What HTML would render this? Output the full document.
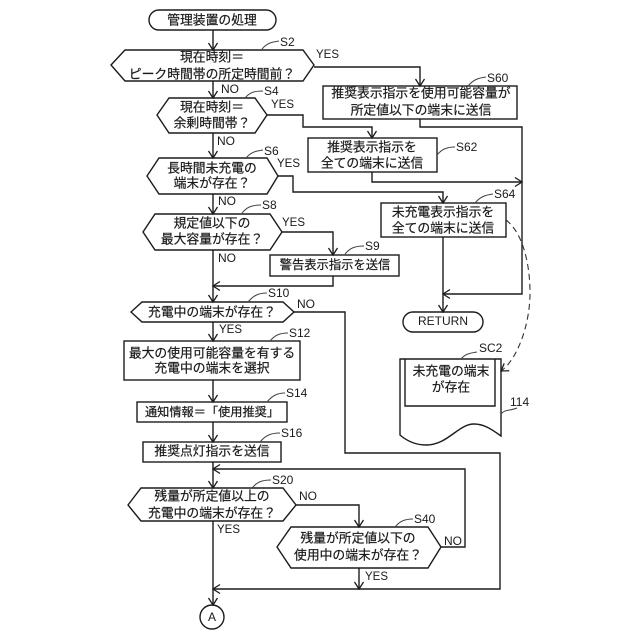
<!DOCTYPE html>
<html lang="ja"><head><meta charset="utf-8"><title>管理装置の処理</title>
<style>
html,body{margin:0;padding:0;background:#fff}
svg{display:block;filter:blur(.35px)}
.s{fill:none;stroke:#1c1c1c;stroke-width:1.4}
.l{fill:none;stroke:#444;stroke-width:1}
.j{font-family:"Liberation Sans","Noto Sans CJK JP",sans-serif;font-size:12.8px;fill:#1a1a1a;stroke:#1a1a1a;stroke-width:.2;text-anchor:middle;dominant-baseline:central}
.e{font-family:"Liberation Sans",sans-serif;font-size:12px;fill:#1a1a1a;dominant-baseline:central}
.t{font-size:11.5px}
</style></head><body>
<svg width="640" height="640" viewBox="0 0 640 640" xmlns="http://www.w3.org/2000/svg">
<defs><marker id="a" markerUnits="userSpaceOnUse" markerWidth="12" markerHeight="12" refX="9" refY="6" orient="auto"><path d="M2 1.5L9 6L2 10.5" fill="none" stroke="#1c1c1c" stroke-width="1.3"/></marker></defs>
<!-- shapes -->
<rect class="s" x="149" y="10" width="127" height="20" rx="10"/>
<polygon class="s" points="111,65 125,50 303,50 314,65 303,81 125,81"/>
<polygon class="s" points="157,115 169,98 255,98 267,115 255,133 169,133"/>
<polygon class="s" points="147,176 159,158 267,158 278,176 267,194 159,194"/>
<polygon class="s" points="143,232 155,214 270,214 282,232 270,250 155,250"/>
<rect class="s" x="270" y="255" width="129" height="21"/>
<polygon class="s" points="131,312 142,302 283,302 294,312 283,322 142,322"/>
<rect class="s" x="124" y="341" width="176" height="39"/>
<rect class="s" x="137" y="402" width="150" height="20"/>
<rect class="s" x="143" y="442" width="138" height="20"/>
<polygon class="s" points="128,505 141,488 283,488 296,505 283,521 141,521"/>
<polygon class="s" points="277,547 291,527 428,527 441,547 428,568 291,568"/>
<circle class="s" cx="212" cy="617" r="12"/>
<rect class="s" x="323" y="86" width="194" height="33"/>
<rect class="s" x="308" y="138" width="129" height="34"/>
<rect class="s" x="381" y="203" width="125" height="34"/>
<rect class="s" x="403" y="312" width="80" height="20" rx="10"/>
<path class="s" d="M400 435V359H501V436C490 428 483 424 474 424C458 424 448 445 426 445C415 445 407 441 400 435Z"/>
<path class="s" d="M405 359V406H495V359"/>
<!-- connectors -->
<path class="s" d="M213 30V50" marker-end="url(#a)"/>
<path class="s" d="M213 81V98" marker-end="url(#a)"/>
<path class="s" d="M213 133V158" marker-end="url(#a)"/>
<path class="s" d="M213 194V214" marker-end="url(#a)"/>
<path class="s" d="M213 250V302" marker-end="url(#a)"/>
<path class="s" d="M213 322V341" marker-end="url(#a)"/>
<path class="s" d="M213 380V402" marker-end="url(#a)"/>
<path class="s" d="M213 422V442" marker-end="url(#a)"/>
<path class="s" d="M213 462V488" marker-end="url(#a)"/>
<path class="s" d="M213 521V605" marker-end="url(#a)"/>
<path class="s" d="M314 67H420V86" marker-end="url(#a)"/>
<path class="s" d="M267 115H303V127H372V138" marker-end="url(#a)"/>
<path class="s" d="M278 176H293V192H443V203" marker-end="url(#a)"/>
<path class="s" d="M282 232H333V255" marker-end="url(#a)"/>
<path class="s" d="M333 276V286H213" marker-end="url(#a)"/>
<path class="s" d="M420 119V127H522V294H443" marker-end="url(#a)"/>
<path class="s" d="M372 172V182H522" marker-end="url(#a)"/>
<path class="s" d="M443 237V312" marker-end="url(#a)"/>
<path class="s" d="M294 312H345V453H500V589H213" marker-end="url(#a)"/>
<path class="s" d="M441 547H465V469H213" marker-end="url(#a)"/>
<path class="s" d="M296 505H359V527" marker-end="url(#a)"/>
<path class="s" d="M359 568V589" marker-end="url(#a)"/>
<path d="M506 220C522 232 530 262 530 293C530 325 517 360 501 371" fill="none" stroke="#333" stroke-width="1.1" stroke-dasharray="6 4" marker-end="url(#a)"/>
<!-- leaders -->
<path class="l" d="M262 49C267 43 272 42 279 41"/>
<path class="l" d="M245 98C250 92 255 91 263 91"/>
<path class="l" d="M246 158C251 152 256 151 263 150"/>
<path class="l" d="M242 213C247 207 252 205 261 205"/>
<path class="l" d="M345 254C350 248 355 246 364 246"/>
<path class="l" d="M248 302C253 296 258 293 267 293"/>
<path class="l" d="M270 341C275 335 280 333 288 333"/>
<path class="l" d="M267 402C272 396 277 393 285 393"/>
<path class="l" d="M260 442C265 436 270 433 280 433"/>
<path class="l" d="M252 488C257 482 262 480 271 480"/>
<path class="l" d="M395 527C400 521 405 519 413 519"/>
<path class="l" d="M468 86C473 80 478 78 486 77"/>
<path class="l" d="M437 155C442 149 447 147 455 147"/>
<path class="l" d="M475 203C480 197 485 195 493 194"/>
<path class="l" d="M461 359C465 354 470 353 477 352"/>
<path class="l" d="M501 414C505 409 510 411 517 408"/>
<!-- Japanese text -->
<text class="j" x="212" y="20">管理装置の処理</text>
<text class="j" x="212" y="57">現在時刻＝</text>
<text class="j" x="212" y="74">ピーク時間帯の所定時間前？</text>
<text class="j" x="212" y="107">現在時刻＝</text>
<text class="j" x="212" y="123">余剰時間帯？</text>
<text class="j" x="212" y="168">長時間未充電の</text>
<text class="j" x="212" y="183">端末が存在？</text>
<text class="j" x="212" y="223">規定値以下の</text>
<text class="j" x="212" y="239">最大容量が存在？</text>
<text class="j" x="335" y="265" style="font-size:12.3px">警告表示指示を送信</text>
<text class="j" x="212" y="312">充電中の端末が存在？</text>
<text class="j" x="212" y="353">最大の使用可能容量を有する</text>
<text class="j" x="212" y="368">充電中の端末を選択</text>
<text class="j" x="212" y="412" style="font-size:12.2px">通知情報＝「使用推奨」</text>
<text class="j" x="212" y="451">推奨点灯指示を送信</text>
<text class="j" x="212" y="496">残量が所定値以上の</text>
<text class="j" x="212" y="513">充電中の端末が存在？</text>
<text class="j" x="358" y="538">残量が所定値以下の</text>
<text class="j" x="358" y="555">使用中の端末が存在？</text>
<text class="j" x="421" y="93">推奨表示指示を使用可能容量が</text>
<text class="j" x="421" y="110">所定値以下の端末に送信</text>
<text class="j" x="372" y="147">推奨表示指示を</text>
<text class="j" x="372" y="163">全ての端末に送信</text>
<text class="j" x="443" y="212">未充電表示指示を</text>
<text class="j" x="443" y="228">全ての端末に送信</text>
<text class="j" x="451" y="371">未充電の端末</text>
<text class="j" x="451" y="387">が存在</text>
<!-- Latin labels -->
<text class="e" x="443" y="321" text-anchor="middle">RETURN</text>
<text class="e" x="212" y="617" text-anchor="middle">A</text>
<text class="e" x="280" y="42">S2</text>
<text class="e" x="264" y="91">S4</text>
<text class="e" x="264" y="151">S6</text>
<text class="e" x="262" y="205">S8</text>
<text class="e" x="365" y="246">S9</text>
<text class="e" x="268" y="293">S10</text>
<text class="e" x="289" y="333">S12</text>
<text class="e" x="286" y="393">S14</text>
<text class="e" x="281" y="433">S16</text>
<text class="e" x="272" y="480">S20</text>
<text class="e" x="414" y="519">S40</text>
<text class="e" x="487" y="78">S60</text>
<text class="e" x="456" y="147">S62</text>
<text class="e" x="494" y="194">S64</text>
<text class="e" x="479" y="348">SC2</text>
<text class="e" x="510" y="402">114</text>
<text class="e t" x="316" y="55">YES</text>
<text class="e t" x="271" y="105">YES</text>
<text class="e t" x="277" y="164">YES</text>
<text class="e t" x="282" y="223">YES</text>
<text class="e t" x="219" y="330">YES</text>
<text class="e t" x="217" y="530">YES</text>
<text class="e t" x="365" y="577">YES</text>
<text class="e" x="221" y="89">NO</text>
<text class="e" x="217" y="141">NO</text>
<text class="e" x="218" y="201">NO</text>
<text class="e" x="218" y="258">NO</text>
<text class="e" x="297" y="304">NO</text>
<text class="e" x="299" y="496">NO</text>
<text class="e" x="444" y="541">NO</text>
</svg>
</body></html>
